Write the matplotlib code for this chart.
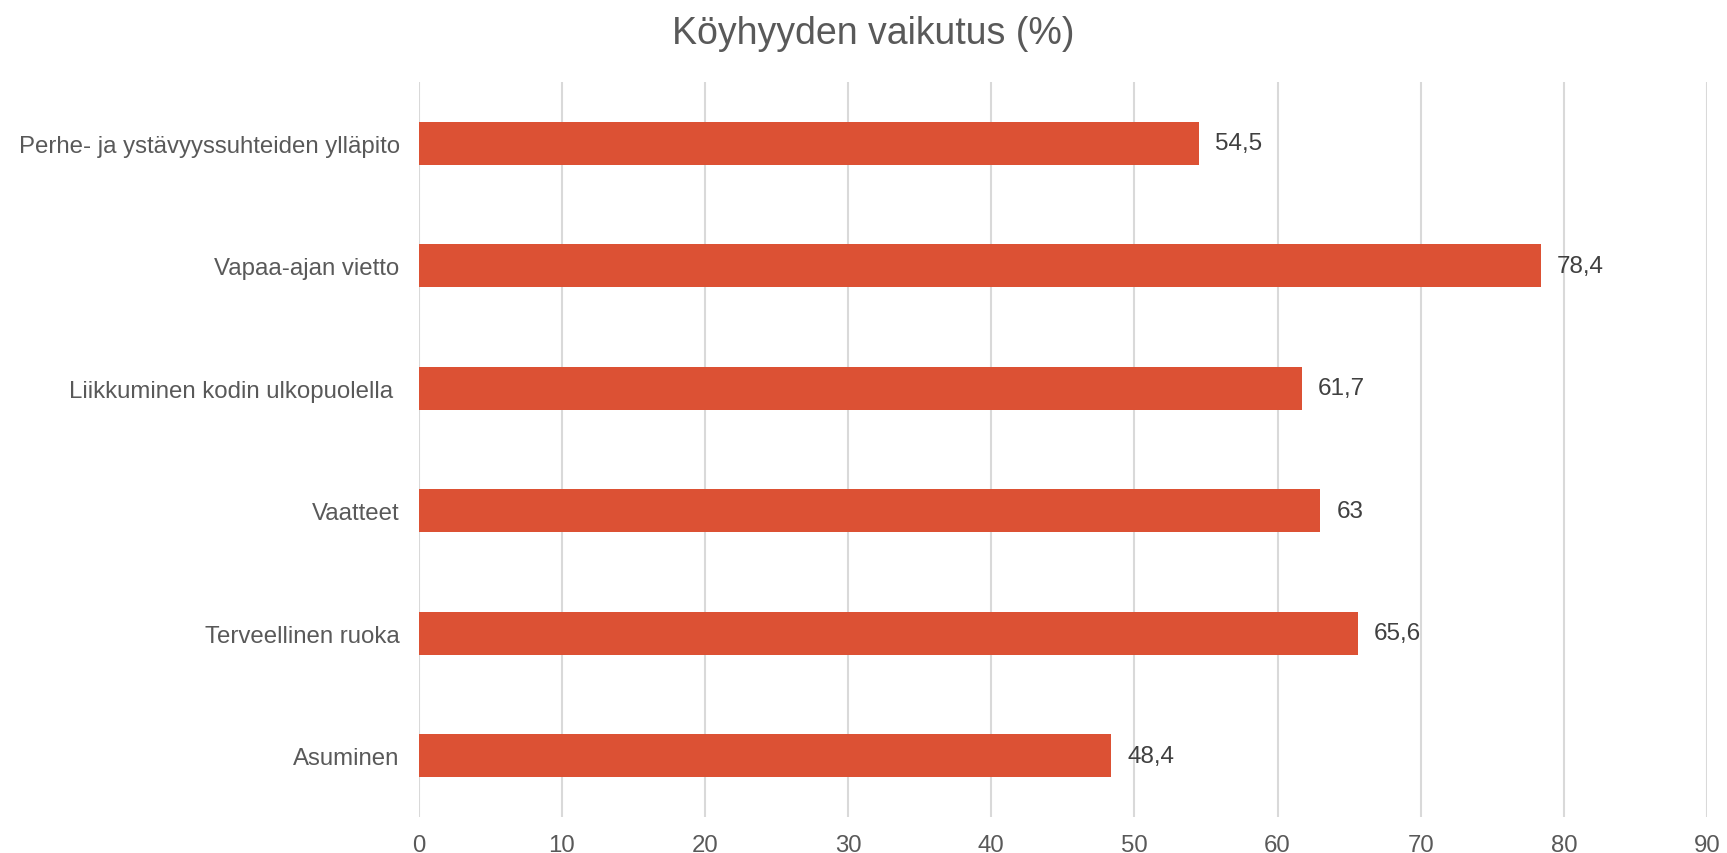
import matplotlib
matplotlib.use("Agg")
import matplotlib.pyplot as plt

categories = ["Perhe- ja ystävyyssuhteiden ylläpito", "Vapaa-ajan vietto",
              "Liikkuminen kodin ulkopuolella ", "Vaatteet",
              "Terveellinen ruoka", "Asuminen"]
values = [54.5, 78.4, 61.7, 63, 65.6, 48.4]
value_labels = ["54,5", "78,4", "61,7", "63", "65,6", "48,4"]
xticks = list(range(0, 100, 10))
title = "Köyhyyden vaikutus (%)"

plt.rcParams['font.family'] = ['Liberation Sans', 'DejaVu Sans']

fig = plt.figure(figsize=(17.27, 8.54), dpi=100)
ax = fig.add_axes([418.5/1727, 1-818/854, (1707-418.5)/1727, (818-83)/854])

n = len(categories)
ypos = list(range(n))
ax.barh(ypos, values, height=0.35, color="#DC5134", zorder=3)
ax.set_ylim(n - 0.5, -0.5)
ax.set_xlim(0, 90)
ax.set_xticks(xticks)
ax.set_xticklabels([str(t) for t in xticks])
ax.set_yticks(ypos)
ax.set_yticklabels(categories)
ax.tick_params(axis='both', length=0, labelsize=17.3, labelcolor="#595959")
ax.tick_params(axis='x', pad=12)
ax.tick_params(axis='y', pad=13.5)
ax.grid(axis='x', color="#D9D9D9", linewidth=1.5, zorder=0)
for s in ax.spines.values():
    s.set_visible(False)

for y, v, lab in zip(ypos, values, value_labels):
    ax.annotate(lab, (v, y), xytext=(16, 0), textcoords='offset pixels',
                va='center', ha='left', fontsize=17.5, color="#404040")

fig.text(873/1727, 1-34/854, title, ha='center', va='center',
         fontsize=27, color="#595959")

fig.savefig("out.png", dpi=100, facecolor="white")
